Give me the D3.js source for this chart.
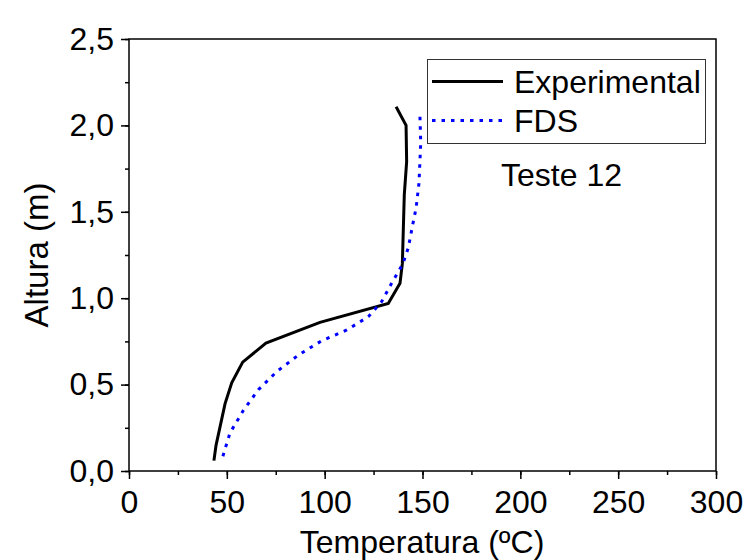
<!DOCTYPE html>
<html>
<head>
<meta charset="utf-8">
<script src="https://cdn.jsdelivr.net/npm/d3@7"></script>
<style>
  body { margin: 0; background: #fff; }
  svg text { font-family: "Liberation Sans", Arial, sans-serif; fill: #000; }
</style>
</head>
<body>
<svg width="743" height="560"></svg>
<script>
// ---- data ----
var expTemp   = [136.5, 141.6, 141.9, 140.7, 140.2, 139.7, 138.5, 132.5, 97.6, 70.0, 58.1, 52.5, 49.1, 44.5, 43.4];
var expHeight = [2.108, 2.00, 1.79, 1.60, 1.40, 1.20, 1.086, 0.97, 0.86, 0.74, 0.63, 0.51, 0.39, 0.15, 0.06];

var fdsTemp   = [148.7, 149.1, 148.2, 146.7, 145.3, 142.7, 140.0, 134.2, 129.1, 122.3, 111.3, 98.5, 86.5, 75.5, 66.1, 58.4, 51.6, 47.4];
var fdsHeight = [2.05, 1.90, 1.665, 1.52, 1.443, 1.29, 1.20, 1.086, 0.98, 0.893, 0.816, 0.754, 0.67, 0.575, 0.47, 0.35, 0.22, 0.064];

var xTicks = [0, 50, 100, 150, 200, 250, 300];
var yTicks = [0, 0.5, 1.0, 1.5, 2.0, 2.5];
var seriesNames = ["Experimental", "FDS"];

var svg = d3.select("svg");

// scales
var x = d3.scaleLinear().domain([0, 300]).range([129, 716]);
var y = d3.scaleLinear().domain([0, 2.5]).range([471, 39]);

var comma = function(d) { return d3.format(".1f")(d).replace(".", ","); };

// minor ticks
svg.append("g").attr("transform", "translate(0,471)")
    .call(d3.axisBottom(x).tickValues(d3.range(0, 301, 25)).tickSize(4).tickFormat(""))
    .call(function(g) { g.select(".domain").remove(); g.selectAll("line").attr("stroke-width", 1.5); });
svg.append("g").attr("transform", "translate(129,0)")
    .call(d3.axisLeft(y).tickValues(d3.range(0, 2.51, 0.25)).tickSize(4).tickFormat(""))
    .call(function(g) { g.select(".domain").remove(); g.selectAll("line").attr("stroke-width", 1.5); });

// major ticks + labels
svg.append("g").attr("transform", "translate(0,471)")
    .call(d3.axisBottom(x).tickValues(xTicks).tickSize(8).tickPadding(11))
    .call(function(g) {
        g.select(".domain").remove();
        g.selectAll("line").attr("stroke-width", 1.5);
        g.selectAll("text").attr("font-size", 32).attr("font-family", "Liberation Sans, Arial, sans-serif");
    });
svg.append("g").attr("transform", "translate(129,0)")
    .call(d3.axisLeft(y).tickValues(yTicks).tickSize(8).tickPadding(7).tickFormat(comma))
    .call(function(g) {
        g.select(".domain").remove();
        g.selectAll("line").attr("stroke-width", 1.5);
        g.selectAll("text").attr("font-size", 32).attr("font-family", "Liberation Sans, Arial, sans-serif");
    });

// frame
svg.append("rect")
    .attr("x", x(0)).attr("y", y(2.5))
    .attr("width", x(300) - x(0)).attr("height", y(0) - y(2.5))
    .attr("fill", "none").attr("stroke", "#000").attr("stroke-width", 1.5);

// lines
var line = d3.line().x(function(d) { return x(d[0]); }).y(function(d) { return y(d[1]); });

svg.append("path")
    .datum(d3.zip(expTemp, expHeight))
    .attr("d", line)
    .attr("fill", "none").attr("stroke", "#000").attr("stroke-width", 3);

svg.append("path")
    .datum(d3.zip(fdsTemp, fdsHeight))
    .attr("d", line)
    .attr("fill", "none").attr("stroke", "#0000ff").attr("stroke-width", 3)
    .attr("stroke-dasharray", "3.5,6");

// legend
svg.append("rect")
    .attr("x", 427.5).attr("y", 59.5).attr("width", 278).attr("height", 84)
    .attr("fill", "#fff").attr("stroke", "#333").attr("stroke-width", 1);

var legend = svg.selectAll("g.legend-item")
    .data(seriesNames)
    .enter().append("g")
    .attr("class", "legend-item")
    .attr("transform", function(d, i) { return "translate(0," + (81.5 + i * 39) + ")"; });

legend.append("line")
    .attr("x1", 432).attr("x2", 503).attr("y1", 0).attr("y2", 0)
    .attr("stroke", function(d, i) { return i === 0 ? "#000" : "#0000ff"; })
    .attr("stroke-width", 3)
    .attr("stroke-dasharray", function(d, i) { return i === 0 ? null : "3.5,6"; });

legend.append("text")
    .attr("x", 514).attr("y", 11.5)
    .attr("font-size", 32)
    .text(function(d) { return d; });

// annotation
svg.append("text")
    .attr("x", 501).attr("y", 186)
    .attr("font-size", 32)
    .text("Teste 12");

// axis titles
svg.append("text")
    .attr("x", 422).attr("y", 553)
    .attr("text-anchor", "middle")
    .attr("font-size", 32)
    .text("Temperatura (ºC)");

svg.append("text")
    .attr("transform", "translate(48,255) rotate(-90)")
    .attr("text-anchor", "middle")
    .attr("font-size", 33)
    .text("Altura (m)");
</script>
</body>
</html>
